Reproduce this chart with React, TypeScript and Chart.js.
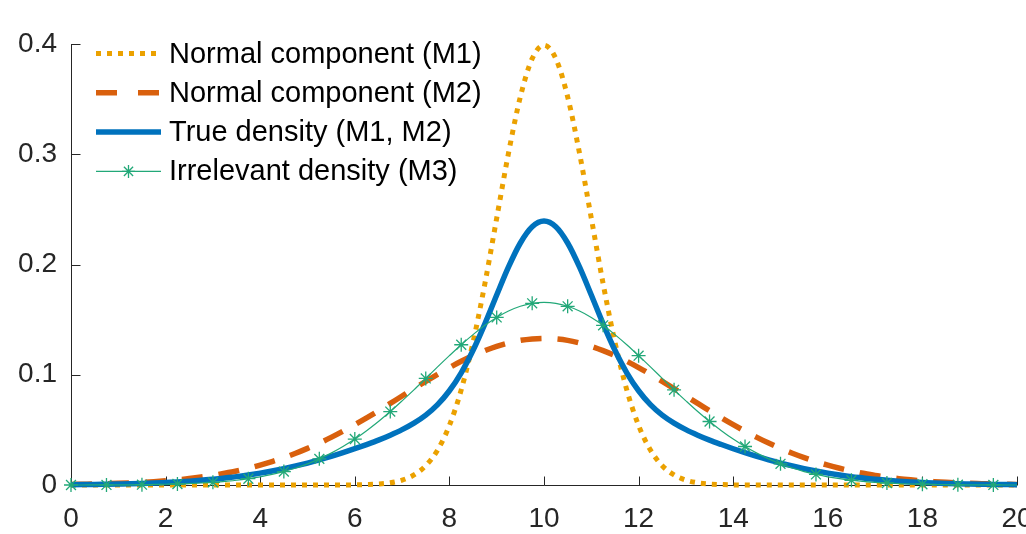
import React, { useEffect, useRef } from "react";
import { Chart, registerables } from "chart.js";

Chart.register(...registerables);

const xs = [
  0, 0.25, 0.5, 0.75, 1, 1.25, 1.5, 1.75, 2, 2.25, 2.5, 2.75, 3, 3.25, 3.5, 3.75, 4, 4.25, 4.5, 4.75,
  5, 5.25, 5.5, 5.75, 6, 6.25, 6.5, 6.75, 7, 7.25, 7.5, 7.75, 8, 8.25, 8.5, 8.75, 9, 9.25, 9.5, 9.75,
  10, 10.25, 10.5, 10.75, 11, 11.25, 11.5, 11.75, 12, 12.25, 12.5, 12.75, 13, 13.25, 13.5, 13.75, 14, 14.25, 14.5, 14.75,
  15, 15.25, 15.5, 15.75, 16, 16.25, 16.5, 16.75, 17, 17.25, 17.5, 17.75, 18, 18.25, 18.5, 18.75, 19, 19.25, 19.5, 19.75, 20,
];

const m1 = [
  0, 0, 0, 0, 0, 0, 0, 0, 0, 0, 0, 0, 0, 0, 0, 0, 0, 0, 0, 0, 0, 0, 0, 0,
  0.0001, 0.0004, 0.0009, 0.002, 0.0044, 0.0091, 0.0175, 0.0317, 0.054, 0.0863, 0.1295, 0.1826, 0.242, 0.3011, 0.3521, 0.3867,
  0.3989,
  0.3867, 0.3521, 0.3011, 0.242, 0.1826, 0.1295, 0.0863, 0.054, 0.0317, 0.0175, 0.0091, 0.0044, 0.002, 0.0009, 0.0004, 0.0001,
  0, 0, 0, 0, 0, 0, 0, 0, 0, 0, 0, 0, 0, 0, 0, 0, 0, 0, 0, 0, 0, 0, 0, 0,
];

const m2 = [
  0.0005, 0.0007, 0.0009, 0.0012, 0.0015, 0.0019, 0.0024, 0.003, 0.0038, 0.0047, 0.0058, 0.0072, 0.0087, 0.0106, 0.0127, 0.0152,
  0.018, 0.0212, 0.0248, 0.0288, 0.0332, 0.038, 0.0432, 0.0488, 0.0547, 0.0609, 0.0673, 0.074, 0.0807, 0.0874, 0.094, 0.1004,
  0.1065, 0.1122, 0.1174, 0.1219, 0.1258, 0.1289, 0.1312, 0.1325, 0.133,
  0.1325, 0.1312, 0.1289, 0.1258, 0.1219, 0.1174, 0.1122, 0.1065, 0.1004, 0.094, 0.0874, 0.0807, 0.074, 0.0673, 0.0609, 0.0547,
  0.0488, 0.0432, 0.038, 0.0332, 0.0288, 0.0248, 0.0212, 0.018, 0.0152, 0.0127, 0.0106, 0.0087, 0.0072, 0.0058, 0.0047, 0.0038,
  0.003, 0.0024, 0.0019, 0.0015, 0.0012, 0.0009, 0.0007, 0.0005,
];

const trueDensity = [
  0.0003, 0.0004, 0.0005, 0.0007, 0.0009, 0.0011, 0.0014, 0.0018, 0.0023, 0.0028, 0.0035, 0.0043, 0.0052, 0.0064, 0.0076, 0.0091,
  0.0108, 0.0127, 0.0149, 0.0173, 0.0199, 0.0228, 0.0259, 0.0293, 0.0329, 0.0367, 0.0407, 0.0452, 0.0502, 0.0561, 0.0634, 0.0729,
  0.0855, 0.1018, 0.1222, 0.1462, 0.1723, 0.1978, 0.2195, 0.2342, 0.2394,
  0.2342, 0.2195, 0.1978, 0.1723, 0.1462, 0.1222, 0.1018, 0.0855, 0.0729, 0.0634, 0.0561, 0.0502, 0.0452, 0.0407, 0.0367, 0.0329,
  0.0293, 0.0259, 0.0228, 0.0199, 0.0173, 0.0149, 0.0127, 0.0108, 0.0091, 0.0076, 0.0064, 0.0052, 0.0043, 0.0035, 0.0028, 0.0023,
  0.0018, 0.0014, 0.0011, 0.0009, 0.0007, 0.0005, 0.0004, 0.0003,
];

const m3 = [
  0, 0, 0.0001, 0.0001, 0.0002, 0.0002, 0.0003, 0.0005, 0.0007, 0.0009, 0.0013, 0.0018, 0.0024, 0.0033, 0.0043, 0.0057,
  0.0074, 0.0096, 0.0122, 0.0154, 0.0192, 0.0237, 0.0289, 0.0349, 0.0417, 0.0493, 0.0576, 0.0666, 0.0763, 0.0863, 0.0967, 0.1071,
  0.1173, 0.1272, 0.1364, 0.1448, 0.152, 0.1578, 0.1621, 0.1648, 0.1657,
  0.1648, 0.1621, 0.1578, 0.152, 0.1448, 0.1364, 0.1272, 0.1173, 0.1071, 0.0967, 0.0863, 0.0763, 0.0666, 0.0576, 0.0493, 0.0417,
  0.0349, 0.0289, 0.0237, 0.0192, 0.0154, 0.0122, 0.0096, 0.0074, 0.0057, 0.0043, 0.0033, 0.0024, 0.0018, 0.0013, 0.0009, 0.0007,
  0.0005, 0.0003, 0.0002, 0.0002, 0.0001, 0.0001, 0, 0,
];

const seriesLabels = [
  "Normal component (M1)",
  "Normal component (M2)",
  "True density (M1, M2)",
  "Irrelevant density (M3)",
];

const xTickLabels = ["0", "2", "4", "6", "8", "10", "12", "14", "16", "18", "20"];
const yTickLabels = ["0", "0.1", "0.2", "0.3", "0.4"];

const FONT = '"Liberation Sans", Arial, Helvetica, sans-serif';
const AXIS_COLOR = "#262626";

function pts(ys: number[]) {
  return xs.map((x, i) => ({ x, y: ys[i] }));
}

function drawAsterisk(ctx: CanvasRenderingContext2D, cx: number, cy: number, r: number) {
  ctx.beginPath();
  ctx.moveTo(cx - r, cy);
  ctx.lineTo(cx + r, cy);
  ctx.moveTo(cx, cy - r);
  ctx.lineTo(cx, cy + r);
  const d = r * 0.7071;
  ctx.moveTo(cx - d, cy - d);
  ctx.lineTo(cx + d, cy + d);
  ctx.moveTo(cx - d, cy + d);
  ctx.lineTo(cx + d, cy - d);
  ctx.stroke();
}

const axesPlugin = {
  id: "matlabAxes",
  beforeDatasetsDraw(chart: any) {
    const { ctx, chartArea: a, scales } = chart;
    const x = scales.x;
    const y = scales.y;
    ctx.save();
    ctx.strokeStyle = AXIS_COLOR;
    ctx.lineWidth = 1;
    ctx.beginPath();
    const lx = Math.round(a.left) + 0.5;
    const by = Math.round(a.bottom) + 0.5;
    ctx.moveTo(lx, a.top);
    ctx.lineTo(lx, by);
    ctx.lineTo(a.right, by);
    x.ticks.forEach((t: any) => {
      const px = Math.round(x.getPixelForValue(t.value)) + 0.5;
      ctx.moveTo(px, by);
      ctx.lineTo(px, by - 9);
    });
    y.ticks.forEach((t: any) => {
      const py = Math.round(y.getPixelForValue(t.value)) + 0.5;
      ctx.moveTo(lx, py);
      ctx.lineTo(lx + 9, py);
    });
    ctx.stroke();
    ctx.restore();
  },
};

const legendPlugin = {
  id: "insideLegend",
  afterDraw(chart: any) {
    const { ctx } = chart;
    ctx.save();
    chart.data.datasets.forEach((ds: any, i: number) => {
      const cy = 53.5 + i * 39.3;
      ctx.strokeStyle = ds.borderColor;
      ctx.lineWidth = ds.borderWidth;
      ctx.lineCap = "butt";
      ctx.setLineDash(ds.legendDash || []);
      ctx.beginPath();
      ctx.moveTo(96, cy);
      ctx.lineTo(161, cy);
      ctx.stroke();
      ctx.setLineDash([]);
      if (ds.pointStyle === "star") {
        ctx.lineWidth = 1.3;
        ctx.strokeStyle = ds.pointBorderColor;
        drawAsterisk(ctx, 128.5, cy, 6.5);
      }
      ctx.fillStyle = "#000000";
      ctx.font = `29px ${FONT}`;
      ctx.textBaseline = "middle";
      ctx.textAlign = "left";
      ctx.fillText(ds.label, 169, cy + 1);
    });
    ctx.restore();
  },
};

export default function App() {
  const canvasRef = useRef<HTMLCanvasElement | null>(null);

  useEffect(() => {
    const canvas = canvasRef.current;
    if (!canvas) return;
    const chart = new Chart(canvas, {
      type: "line",
      data: {
        datasets: [
          {
            label: seriesLabels[0],
            data: pts(m1),
            borderColor: "#EBA100",
            borderWidth: 5,
            borderDash: [5, 6],
            legendDash: [5, 6],
            pointRadius: 0,
            cubicInterpolationMode: "monotone",
            clip: false,
            order: 3,
          } as any,
          {
            label: seriesLabels[1],
            data: pts(m2),
            borderColor: "#D9600D",
            borderWidth: 5.5,
            borderDash: [21, 16],
            legendDash: [21, 21],
            pointRadius: 0,
            cubicInterpolationMode: "monotone",
            clip: false,
            order: 2,
          } as any,
          {
            label: seriesLabels[2],
            data: pts(trueDensity),
            borderColor: "#0072BD",
            borderWidth: 5.5,
            pointRadius: 0,
            cubicInterpolationMode: "monotone",
            clip: false,
            order: 1,
          } as any,
          {
            label: seriesLabels[3],
            data: pts(m3),
            borderColor: "#22A878",
            borderWidth: 1.2,
            pointStyle: "star",
            pointRadius: (c: any) => (c.dataIndex % 3 === 0 ? 7 : 0),
            pointBorderColor: "#22A878",
            pointBackgroundColor: "#22A878",
            pointBorderWidth: 1.3,
            pointHoverRadius: 0,
            cubicInterpolationMode: "monotone",
            clip: false,
            order: 0,
          } as any,
        ],
      },
      options: {
        responsive: false,
        animation: false,
        events: [],
        layout: { padding: { left: 0, right: 9, top: 44, bottom: 0 } },
        plugins: {
          legend: { display: false },
          tooltip: { enabled: false },
        },
        scales: {
          x: {
            type: "linear",
            min: 0,
            max: 20,
            border: { display: false },
            grid: { display: false, drawTicks: false },
            ticks: {
              stepSize: 2,
              autoSkip: false,
              maxRotation: 0,
              padding: 17,
              color: AXIS_COLOR,
              font: { family: FONT, size: 28 },
              callback: (_v: any, i: number) => xTickLabels[i],
            },
            afterFit: (s: any) => {
              s.height = 49;
              s.paddingLeft = 0;
              s.paddingRight = 0;
            },
          },
          y: {
            type: "linear",
            min: 0,
            max: 0.4,
            border: { display: false },
            grid: { display: false, drawTicks: false },
            ticks: {
              stepSize: 0.1,
              autoSkip: false,
              padding: 14,
              color: AXIS_COLOR,
              font: { family: FONT, size: 28 },
              callback: (_v: any, i: number) => yTickLabels[i],
            },
            afterFit: (s: any) => {
              s.width = 71;
              s.paddingTop = 0;
              s.paddingBottom = 0;
            },
          },
        },
      },
      plugins: [axesPlugin, legendPlugin],
    });
    return () => chart.destroy();
  }, []);

  return (
    <div style={{ position: "fixed", left: 0, top: 0, width: 1026, height: 534, background: "#fff" }}>
      <canvas ref={canvasRef} width={1026} height={534} style={{ display: "block" }} />
    </div>
  );
}
